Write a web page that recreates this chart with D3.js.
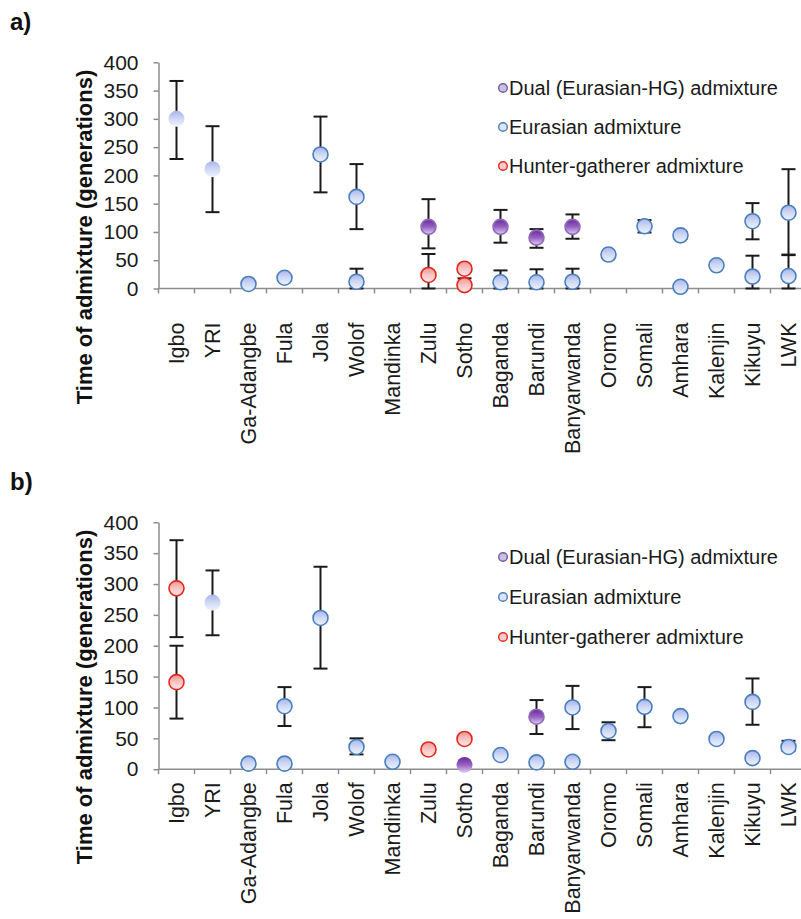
<!DOCTYPE html>
<html>
<head>
<meta charset="utf-8">
<script src="https://cdnjs.cloudflare.com/ajax/libs/d3/7.8.5/d3.min.js"></script>
<style>
  body { margin: 0; background: #fff; }
  svg { display: block; font-family: "Liberation Sans", Arial, sans-serif; }
</style>
</head>
<body>
<svg></svg>
<script>
// populations on the x axis
var populations = ['Igbo', 'YRI', 'Ga-Adangbe', 'Fula', 'Jola', 'Wolof', 'Mandinka', 'Zulu', 'Sotho',
  'Baganda', 'Barundi', 'Banyarwanda', 'Oromo', 'Somali', 'Amhara', 'Kalenjin', 'Kikuyu', 'LWK'];
var yTicks = [0, 50, 100, 150, 200, 250, 300, 350, 400];
var seriesNames = ['Dual (Eurasian-HG) admixture', 'Eurasian admixture', 'Hunter-gatherer admixture'];

// panel a: [population, time, low, high, bare marker]
var aDual = [
  ['Zulu', 109, 71, 158], ['Baganda', 109, 81, 139], ['Barundi', 90, 72, 105], ['Banyarwanda', 109, 88, 131]
];
var aEurasian = [
  ['Igbo', 300, 229, 367, true], ['YRI', 211, 135, 287, true],
  ['Ga-Adangbe', 8], ['Fula', 19], ['Jola', 237, 170, 304],
  ['Wolof', 162, 105, 220], ['Wolof', 12, 0, 35],
  ['Baganda', 11, 0, 32], ['Barundi', 11, 0, 34], ['Banyarwanda', 12, 0, 35],
  ['Oromo', 60], ['Somali', 110, 99, 121], ['Amhara', 94, 88, 100], ['Amhara', 3],
  ['Kalenjin', 41], ['Kikuyu', 119, 87, 151], ['Kikuyu', 21, 0, 58],
  ['LWK', 134, 59, 211], ['LWK', 22, 0, 60]
];
var aHG = [
  ['Zulu', 24, 0, 61], ['Sotho', 35], ['Sotho', 6, 0, 18]
];

// panel b
var bDual = [
  ['Barundi', 85, 57, 112], ['Sotho', 7, null, null, true]
];
var bEurasian = [
  ['YRI', 270, 217, 322, true],
  ['Ga-Adangbe', 9], ['Fula', 102, 70, 133], ['Fula', 9], ['Jola', 245, 163, 328],
  ['Wolof', 36, 24, 50], ['Mandinka', 12], ['Baganda', 23], ['Barundi', 11],
  ['Banyarwanda', 100, 65, 135], ['Banyarwanda', 12], ['Oromo', 62, 47, 76],
  ['Somali', 101, 68, 133], ['Amhara', 86], ['Kalenjin', 49],
  ['Kikuyu', 109, 72, 147], ['Kikuyu', 18], ['LWK', 36, 30, 46]
];
var bHG = [
  ['Igbo', 293, 214, 371], ['Igbo', 141, 82, 200], ['Zulu', 32], ['Sotho', 49]
];

var width = 801, height = 919;
var svg = d3.select('svg').attr('width', width).attr('height', height);

var styles = {
  dual: { grad: ['#6a2a9a', '#9660c2', '#e2cfef'], stroke: '#8f6cbc', legFill: '#cbbfe2', legStroke: '#6f5ca6' },
  eur:  { grad: ['#a9b4ea', '#cfd9f5', '#eef3fd'], stroke: '#4a7fbd', legFill: '#dce5f7', legStroke: '#4a7fbd' },
  hg:   { grad: ['#f09494', '#f8c4c4', '#fde9e9'], stroke: '#e3261c', legFill: '#f8cccc', legStroke: '#e3261c' }
};

var defs = svg.append('defs');
Object.keys(styles).forEach(function(k) {
  var g = defs.append('linearGradient').attr('id', 'g-' + k)
    .attr('x1', 0).attr('y1', 0).attr('x2', 0).attr('y2', 1);
  styles[k].grad.forEach(function(c, i) {
    g.append('stop').attr('offset', i / 2).attr('stop-color', c);
  });
});

var x = d3.scaleBand().domain(populations).range([158.5, 158.5 + 36 * populations.length]);

function drawPanel(cfg) {
  var y = d3.scaleLinear().domain([0, 400]).range([cfg.bottom, cfg.top]);
  var g = svg.append('g');

  // panel letter
  g.append('text').attr('x', 10).attr('y', cfg.letterY)
    .attr('font-size', 24).attr('font-weight', 'bold').attr('fill', '#111').text(cfg.letter);

  // y axis
  var yAxis = g.append('g').attr('transform', 'translate(158.5,0)')
    .call(d3.axisLeft(y).tickValues(yTicks).tickSize(5).tickSizeOuter(0).tickPadding(15));
  yAxis.select('.domain').attr('stroke', '#8c8c8c').attr('stroke-width', 1.5);
  yAxis.selectAll('.tick line').attr('stroke', '#8c8c8c').attr('stroke-width', 1.5);
  yAxis.selectAll('.tick text').attr('font-size', 21).attr('fill', '#1a1a1a')
    .attr('font-family', '"Liberation Sans", Arial, sans-serif');

  g.append('text')
    .attr('transform', 'translate(84,' + cfg.titleY + ') rotate(-90)')
    .attr('text-anchor', 'middle').attr('dy', '0.35em')
    .attr('font-size', 22).attr('font-weight', 'bold').attr('fill', '#111')
    .text('Time of admixture (generations)');

  // x axis
  var y0 = y(0);
  g.append('line').attr('x1', x.range()[0]).attr('x2', x.range()[1])
    .attr('y1', y0).attr('y2', y0).attr('stroke', '#8c8c8c').attr('stroke-width', 1.5);
  g.selectAll('.xtick').data(populations.concat(['end'])).enter().append('line')
    .attr('x1', function(d) { return d === 'end' ? x.range()[1] : x(d); })
    .attr('x2', function(d) { return d === 'end' ? x.range()[1] : x(d); })
    .attr('y1', y0).attr('y2', y0 + 5).attr('stroke', '#8c8c8c').attr('stroke-width', 1.5);
  g.selectAll('.xlabel').data(populations).enter().append('text')
    .attr('transform', function(d) {
      return 'translate(' + (x(d) + x.bandwidth() / 2) + ',' + (y0 + cfg.labelGap) + ') rotate(-90)';
    })
    .attr('text-anchor', 'end').attr('dy', '0.35em')
    .attr('font-size', 21.5).attr('fill', '#1a1a1a').text(function(d) { return d; });

  var points = [];
  cfg.series.forEach(function(s) {
    s.data.forEach(function(d) {
      points.push({ pop: d[0], t: d[1], lo: d[2], hi: d[3], bare: !!d[4], type: s.type });
    });
  });
  var cx = function(d) { return x(d.pop) + x.bandwidth() / 2; };

  // error bars behind the markers
  var withErr = points.filter(function(d) { return d.lo != null; });
  var eb = g.append('g').attr('stroke', '#1a1a1a').attr('stroke-width', 2);
  eb.selectAll('.v').data(withErr).enter().append('line')
    .attr('x1', cx).attr('x2', cx)
    .attr('y1', function(d) { return y(d.lo); }).attr('y2', function(d) { return y(d.hi); });
  ['lo', 'hi'].forEach(function(k) {
    eb.selectAll('.c' + k).data(withErr).enter().append('line')
      .attr('x1', function(d) { return cx(d) - 7; }).attr('x2', function(d) { return cx(d) + 7; })
      .attr('y1', function(d) { return y(d[k]); }).attr('y2', function(d) { return y(d[k]); });
  });

  g.selectAll('.pt').data(points).enter().append('circle')
    .attr('cx', cx).attr('cy', function(d) { return y(d.t); })
    .attr('r', function(d) { return d.bare ? 8 : 7.5; })
    .attr('fill', function(d) { return 'url(#g-' + d.type + ')'; })
    .attr('stroke', function(d) { return d.bare ? 'none' : styles[d.type].stroke; })
    .attr('stroke-width', 1.6);

  // legend
  var leg = g.selectAll('.leg').data(['dual', 'eur', 'hg']).enter().append('g')
    .attr('transform', function(d, i) { return 'translate(503,' + cfg.legendY[i] + ')'; });
  leg.append('circle').attr('r', 4.3)
    .attr('fill', function(d) { return styles[d].legFill; })
    .attr('stroke', function(d) { return styles[d].legStroke; }).attr('stroke-width', 1.4);
  leg.append('text').attr('x', 6).attr('dy', '0.35em')
    .attr('font-size', 20).attr('fill', '#1a1a1a')
    .text(function(d, i) { return seriesNames[i]; });
}

drawPanel({
  letter: 'a)', letterY: 30, top: 62.3, bottom: 288.5, titleY: 237, labelGap: 34,
  legendY: [88, 127, 166],
  series: [{ type: 'eur', data: aEurasian }, { type: 'hg', data: aHG }, { type: 'dual', data: aDual }]
});
drawPanel({
  letter: 'b)', letterY: 490, top: 522.3, bottom: 769.2, titleY: 697, labelGap: 13,
  legendY: [557, 597, 637],
  series: [{ type: 'eur', data: bEurasian }, { type: 'hg', data: bHG }, { type: 'dual', data: bDual }]
});
</script>
</body>
</html>
